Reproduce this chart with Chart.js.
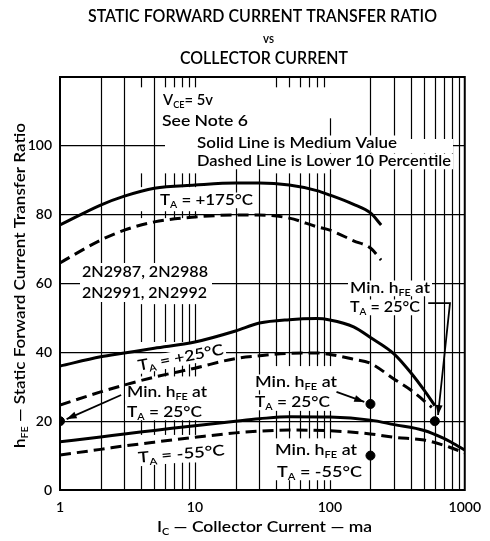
<!DOCTYPE html>
<html><head><meta charset="utf-8">
<script src="https://cdn.jsdelivr.net/npm/chart.js@4.4.1/dist/chart.umd.min.js"></script>
<style>html,body{margin:0;padding:0;background:#fff;}canvas{display:block;}</style>
</head><body>
<canvas id="c" width="490" height="541"></canvas>
<script>
// ---------- data ----------
const xTickValues = [1, 10, 100, 1000];
const yTickStep = 20;

const currents175 = [1, 2, 3, 5, 10, 20, 30, 50, 80, 100, 150, 200, 240];
const median175   = [77, 82.8, 85.4, 87.7, 88.6, 89.2, 89.2, 88.6, 87, 85.7, 83, 80.5, 77];
const lower175    = [66, 72.6, 75.5, 77.9, 79.3, 79.9, 79.9, 79, 76.5, 75.5, 72.4, 70.3, 66.8];

const currents25Med = [1, 2, 3, 5, 10, 20, 30, 50, 80, 100, 150, 200, 300, 400, 500, 600];
const median25      = [36, 38.7, 39.8, 41.2, 43, 46.2, 48.5, 49.5, 49.8, 49.4, 47.4, 44.3, 39.5, 34, 29, 24.5];
const currents25Low = [1, 2, 3, 5, 10, 20, 30, 50, 80, 100, 150, 200, 300, 400, 570];
const lower25       = [24.7, 28.5, 30.5, 32.8, 35.4, 38.2, 39, 39.7, 39.8, 39.4, 38, 36.8, 32.2, 29, 24];

const currentsM55 = [1, 2, 3, 5, 10, 20, 30, 50, 100, 200, 300, 500, 700, 800, 1000];
const medianM55   = [14, 15.4, 16.3, 17.3, 18.7, 20, 20.7, 21.3, 21.2, 20.3, 19, 17.3, 15, 13.8, 11.6];
const lowerM55    = [10.2, 11.8, 12.8, 13.9, 15.3, 16.6, 17.1, 17.4, 17.2, 16.3, 15.3, 14.5, 13, 12.2, 10.8];

const minCurrents = [1, 200, 200, 600];
const minHfe      = [20, 25, 10, 20];

// arrows (data coordinates)
const arrowLeft   = [[2.84, 27.6], [1.12, 20.6]];
const arrowMiddle = [[112, 28.5], [180, 25.6]];
const arrowRight  = [[536, 54.3], [777, 54.3], [634, 21.8]];

// ---------- styling / layout ----------
const FONT = 'Lato, "Open Sans", sans-serif';
const WEIGHT = '600';

const gridSpec = [
  {xs: [2, 3, 200, 300, 400, 500, 600, 700, 800, 900], bands: [[0, 120]]},
  {xs: [20, 30], bands: [[0, 97]]},
  {xs: [5], bands: [[0, 8], [16, 21], [33, 37], [43, 54], [64, 120]]},
  {xs: [4, 6, 7, 8, 9, 10], bands: [[0, 8], [16, 21], [33, 37], [43, 54], [79, 81], [88, 92], [117, 120]]},
  {xs: [40, 50, 60, 70, 80, 90], bands: [[0, 4], [15, 23], [36, 92], [117, 120]]},
  {xs: [100], bands: [[0, 4], [15, 23], [36, 108]]}
];

const masks = [[165, 139, 288, 14], [80, 263, 132, 39]];

const notes = [
  {t: 'V_{CE}= 5v', x: 163, y: 100, w: 50},
  {t: 'See Note 6', x: 162, y: 121, w: 86},
  {t: 'Solid Line is Medium Value', x: 197, y: 143, w: 200},
  {t: 'Dashed Line is Lower 10 Percentile', x: 197, y: 161, w: 254},
  {t: 'T_{A} = +175°C', x: 160, y: 200, w: 93},
  {t: '2N2987, 2N2988', x: 82, y: 272, w: 126},
  {t: '2N2991, 2N2992', x: 82, y: 293, w: 125},
  {t: 'T_{A} = +25°C', x: 138, y: 366, w: 87, rot: -11},
  {t: 'Min. h_{FE} at', x: 127, y: 392, w: 80},
  {t: 'T_{A} = 25°C', x: 127, y: 412, w: 75},
  {t: 'T_{A} = -55°C', x: 138, y: 458, w: 87, rot: -5},
  {t: 'Min. h_{FE} at', x: 255, y: 382, w: 82},
  {t: 'T_{A} = 25°C', x: 255, y: 402, w: 75},
  {t: 'Min. h_{FE} at', x: 275, y: 450, w: 82},
  {t: 'T_{A} = -55°C', x: 277, y: 472, w: 85},
  {t: 'Min. h_{FE} at', x: 350, y: 288, w: 80},
  {t: 'T_{A} = 25°C', x: 350, y: 307, w: 70}
];

const outerTexts = [
  {t: 'STATIC FORWARD CURRENT TRANSFER RATIO', x: 88, y: 17, w: 349, s: 16.5},
  {t: 'vs', x: 263, y: 38, w: 11, s: 14},
  {t: 'COLLECTOR CURRENT', x: 180, y: 59, w: 168, s: 16.5},
  {t: 'I_{C} — Collector Current — ma', x: 157, y: 527, w: 215},
  {t: 'h_{FE} — Static Forward Current Transfer Ratio', x: 20, y: 448, w: 325, rot: -90}
];

// ---------- helpers ----------
function parseRich(t) {
  const parts = [];
  const re = /_\{([^}]*)\}/g;
  let last = 0, m;
  while ((m = re.exec(t))) {
    if (m.index > last) parts.push([t.slice(last, m.index), false]);
    parts.push([m[1], true]);
    last = re.lastIndex;
  }
  if (last < t.length) parts.push([t.slice(last), false]);
  return parts;
}
function richWidth(ctx, parts, s) {
  let w = 0;
  for (const [txt, sub] of parts) {
    ctx.font = WEIGHT + ' ' + (sub ? s * 0.62 : s) + 'px ' + FONT;
    w += ctx.measureText(txt).width;
  }
  return w;
}
function drawRich(ctx, item, withBox) {
  const parts = parseRich(item.t);
  const s = item.s || 15;
  const sx = item.w / richWidth(ctx, parts, s);
  ctx.save();
  ctx.translate(item.x, item.y);
  if (item.rot) ctx.rotate(item.rot * Math.PI / 180);
  if (withBox) {
    ctx.fillStyle = '#fff';
    ctx.fillRect(-2, -s * 0.5, item.w + 4, s * 1.05);
  }
  ctx.scale(sx, 1);
  ctx.fillStyle = '#000';
  ctx.textBaseline = 'middle';
  ctx.textAlign = 'left';
  let x = 0;
  for (const [txt, sub] of parts) {
    const fs = sub ? s * 0.62 : s;
    ctx.font = WEIGHT + ' ' + fs + 'px ' + FONT;
    ctx.fillText(txt, x, sub ? s * 0.33 : 0);
    x += ctx.measureText(txt).width;
  }
  ctx.restore();
}
function arrowHead(ctx, x0, y0, x1, y1) {
  const a = Math.atan2(y1 - y0, x1 - x0), L = 10, W = 3.5;
  ctx.beginPath();
  ctx.moveTo(x1, y1);
  ctx.lineTo(x1 - L * Math.cos(a) + W * Math.sin(a), y1 - L * Math.sin(a) - W * Math.cos(a));
  ctx.lineTo(x1 - L * Math.cos(a) - W * Math.sin(a), y1 - L * Math.sin(a) + W * Math.cos(a));
  ctx.closePath();
  ctx.fill();
}

const paperPlugin = {
  id: 'paper',
  beforeDatasetsDraw(chart) {
    const {ctx, chartArea: ca, scales: {x, y}} = chart;
    ctx.save();
    ctx.strokeStyle = '#000';
    ctx.lineWidth = 1.2;
    for (const g of gridSpec) {
      for (const v of g.xs) {
        const px = Math.round(x.getPixelForValue(v)) + 0.5;
        for (const [a, b] of g.bands) {
          ctx.beginPath();
          ctx.moveTo(px, y.getPixelForValue(a));
          ctx.lineTo(px, y.getPixelForValue(b));
          ctx.stroke();
        }
      }
    }
    ctx.fillStyle = '#fff';
    for (const [mx, my, mw, mh] of masks) ctx.fillRect(mx, my, mw, mh);
    for (const n of notes) drawRich(ctx, n, true);
    ctx.lineWidth = 2;
    ctx.strokeStyle = '#000';
    ctx.strokeRect(ca.left, ca.top, ca.right - ca.left, ca.bottom - ca.top);
    ctx.restore();
  },
  afterDatasetsDraw(chart) {
    const {ctx, scales: {x, y}} = chart;
    ctx.save();
    ctx.strokeStyle = '#000';
    ctx.fillStyle = '#000';
    ctx.lineWidth = 1.8;
    for (const arr of [arrowLeft, arrowMiddle, arrowRight]) {
      const pts = arr.map(([a, b]) => [x.getPixelForValue(a), y.getPixelForValue(b)]);
      ctx.beginPath();
      pts.forEach((p, i) => i ? ctx.lineTo(p[0], p[1]) : ctx.moveTo(p[0], p[1]));
      ctx.stroke();
      const n = pts.length;
      arrowHead(ctx, pts[n - 2][0], pts[n - 2][1], pts[n - 1][0], pts[n - 1][1]);
    }
    ctx.restore();
  },
  afterDraw(chart) {
    const ctx = chart.ctx;
    for (const t of outerTexts) drawRich(ctx, t, false);
  }
};

function curve(xs, ys, dashed) {
  return {
    type: 'line',
    data: xs.map((v, i) => ({x: v, y: ys[i]})),
    borderColor: '#000',
    borderWidth: 3,
    borderDash: dashed ? [11, 6] : [],
    pointRadius: 0,
    fill: false,
    cubicInterpolationMode: 'monotone'
  };
}

new Chart(document.getElementById('c'), {
  type: 'line',
  data: {
    datasets: [
      curve(currents175, median175, false),
      curve(currents175, lower175, true),
      curve(currents25Med, median25, false),
      curve(currents25Low, lower25, true),
      curve(currentsM55, medianM55, false),
      curve(currentsM55, lowerM55, true),
      {
        type: 'scatter',
        data: minCurrents.map((v, i) => ({x: v, y: minHfe[i]})),
        pointRadius: 4.5,
        backgroundColor: '#000',
        borderColor: '#000',
        showLine: false
      }
    ]
  },
  options: {
    responsive: false,
    animation: false,
    layout: {padding: {top: 77, right: 20, left: 0, bottom: 0}},
    plugins: {legend: {display: false}, title: {display: false}, tooltip: {enabled: false}},
    scales: {
      x: {
        type: 'logarithmic', min: 1, max: 1000,
        afterFit(s) { s.height = 51; },
        afterBuildTicks(s) { s.ticks = xTickValues.map(v => ({value: v, major: true})); },
        ticks: {
          callback: v => String(v), color: '#000', autoSkip: false, maxRotation: 0,
          padding: 9, font: {family: FONT, size: 14, weight: WEIGHT}
        },
        grid: {display: false, drawTicks: false},
        border: {display: false}
      },
      y: {
        min: 0, max: 120,
        afterFit(s) { s.width = 60; },
        ticks: {
          stepSize: yTickStep, color: '#000', padding: 8,
          callback: v => (v >= 120 ? '' : String(v)),
          font: {family: FONT, size: 14, weight: WEIGHT}
        },
        grid: {color: '#000', lineWidth: 1.2, drawTicks: false},
        border: {display: false}
      }
    }
  },
  plugins: [paperPlugin]
});
</script>
</body></html>
